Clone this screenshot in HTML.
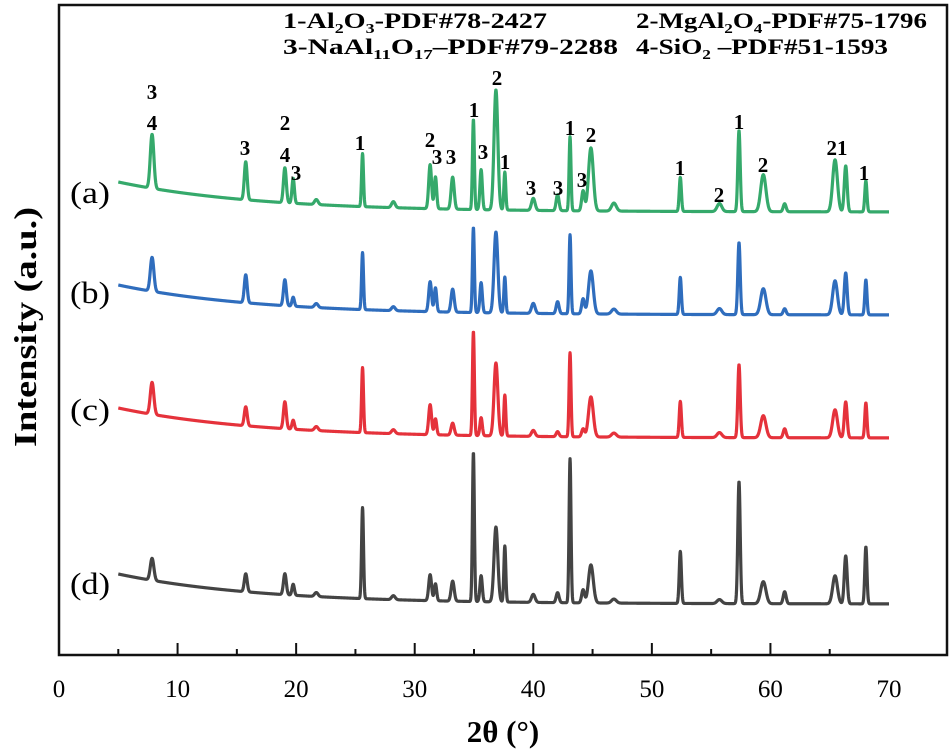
<!DOCTYPE html>
<html><head><meta charset="utf-8"><style>
html,body{margin:0;padding:0;background:#fff;}
svg{display:block;font-family:"Liberation Serif",serif;}
</style></head><body>
<svg id="chart" width="950" height="755" viewBox="0 0 950 755" xmlns="http://www.w3.org/2000/svg">
<rect x="59" y="5" width="888" height="650" fill="none" stroke="#111" stroke-width="2.5"/>
<g id="ticks"></g>
<text x="503" y="742" text-anchor="middle" font-size="31" font-weight="bold">2θ (°)</text>
<text transform="translate(36,327) rotate(-90)" text-anchor="middle" font-size="32" font-weight="bold" textLength="240" lengthAdjust="spacingAndGlyphs">Intensity (a.u.)</text>
<g font-size="22" font-weight="bold">
<text x="283" y="28" textLength="264" lengthAdjust="spacingAndGlyphs">1-Al<tspan font-size="14" dy="5">2</tspan><tspan dy="-5">O</tspan><tspan font-size="14" dy="5">3</tspan><tspan dy="-5">-PDF#78-2427</tspan></text>
<text x="636" y="28" textLength="291" lengthAdjust="spacingAndGlyphs">2-MgAl<tspan font-size="14" dy="5">2</tspan><tspan dy="-5">O</tspan><tspan font-size="14" dy="5">4</tspan><tspan dy="-5">-PDF#75-1796</tspan></text>
<text x="283" y="54" textLength="335" lengthAdjust="spacingAndGlyphs">3-NaAl<tspan font-size="14" dy="5">11</tspan><tspan dy="-5">O</tspan><tspan font-size="14" dy="5">17</tspan><tspan dy="-5">–PDF#79-2288</tspan></text>
<text x="636" y="54" textLength="252" lengthAdjust="spacingAndGlyphs">4-SiO<tspan font-size="14" dy="5">2</tspan><tspan dy="-5"> –PDF#51-1593</tspan></text>
</g>
<g id="series"></g>
<g id="peaklabels" font-size="21" font-weight="bold" text-anchor="middle"></g>
<g font-size="31">
<text x="70" y="203" textLength="40" lengthAdjust="spacingAndGlyphs">(a)</text>
<text x="70" y="303" textLength="40" lengthAdjust="spacingAndGlyphs">(b)</text>
<text x="70" y="420" textLength="40" lengthAdjust="spacingAndGlyphs">(c)</text>
<text x="70" y="594" textLength="40" lengthAdjust="spacingAndGlyphs">(d)</text>
</g>
</svg>
<script>
const peakPositions = [7.85,15.75,19.05,19.75,21.7,25.6,28.2,31.3,31.75,33.2,34.95,35.6,36.85,37.6,40.0,42.05,43.1,44.2,44.86,46.8,52.4,55.7,57.35,59.4,61.2,65.45,66.35,68.05];
const peakWidths = [0.15,0.12,0.12,0.1,0.15,0.08,0.15,0.12,0.1,0.13,0.08,0.1,0.16,0.08,0.15,0.12,0.08,0.12,0.2,0.2,0.09,0.2,0.1,0.22,0.12,0.2,0.12,0.09];
const heightsA = [54,38,35,25,5,53,6,44,32,32,90,40,120,38,12,16,74,20,63,8,34,8,81,37,8,52,46,31];
const heightsB = [34,28,26,9,4,57,4,30,24,23,85,30,81,36,10,12,79,15,43,5,37,6,72,26,6,34,42,35];
const heightsC = [32,19,27,9,4,65,4,30,16,12,104,18,73,41,6,5,84,8,40,4,36,5,73,22,9,28,36,35];
const heightsD = [22,18,21,11,4,91,4,26,17,20,149,26,75,56,8,10,144,13,38,4,52,4,122,22,12,28,48,57];
const xTickLabels = ["0","10","20","30","40","50","60","70"];
const peakLabels = [["3",152,92],["4",152,123],["3",245,148],["2",285,123],["4",285,155],["3",296,173],["1",360,143],["2",430,140],["3",437,157],["3",451,157],["1",474,110],["3",483,152],["2",497,78],["1",505,162],["3",531,188],["3",558,188],["1",570,128],["3",582,180],["2",591,135],["1",680,168],["2",719,195],["1",739,122],["2",763,165],["21",837,148],["1",864,173]];

const NS = "http://www.w3.org/2000/svg";
const X0 = 59, XS = (889-59)/70, AXY = 655;
function xScale(v){ return X0 + v*XS; }
const seriesCfg = [
  {h: heightsA, end: 212, color: "#35a96b", name: "series-a"},
  {h: heightsB, end: 315, color: "#2f6dbd", name: "series-b"},
  {h: heightsC, end: 438, color: "#e5323b", name: "series-c"},
  {h: heightsD, end: 604, color: "#444444", name: "series-d"}
];
function yVal(cfg, x){
  let y = cfg.end - 30*Math.exp(-(x-5)/12);
  for (let i=0;i<peakPositions.length;i++){
    const d = (x-peakPositions[i])/peakWidths[i];
    y -= cfg.h[i]*Math.exp(-0.5*d*d);
  }
  return y;
}
const sg = document.getElementById('series');
seriesCfg.forEach(cfg=>{
  let d = "";
  for (let x=5; x<=70.0001; x+=0.02){
    d += (d?"L":"M") + xScale(x).toFixed(2) + "," + yVal(cfg,x).toFixed(2);
  }
  const p = document.createElementNS(NS,'path');
  p.setAttribute('d', d);
  p.setAttribute('fill','none');
  p.setAttribute('stroke', cfg.color);
  p.setAttribute('stroke-width','3.2');
  p.setAttribute('stroke-linejoin','round');
  
  
  sg.appendChild(p);
});
const tg = document.getElementById('ticks');
for (let v=5; v<70; v+=5){
  const major = v%10===0;
  const l = document.createElementNS(NS,'line');
  l.setAttribute('x1', xScale(v)); l.setAttribute('x2', xScale(v));
  l.setAttribute('y1', AXY); l.setAttribute('y2', AXY-(major?12:6));
  l.setAttribute('stroke','#111'); l.setAttribute('stroke-width','2');
  
  
  tg.appendChild(l);
}
xTickLabels.forEach((s,i)=>{
  const t = document.createElementNS(NS,'text');
  t.setAttribute('x', xScale(i*10)); t.setAttribute('y', 697);
  t.setAttribute('text-anchor','middle'); t.setAttribute('font-size','25');
  t.textContent = s;
  
  
  tg.appendChild(t);
});
const lg = document.getElementById('peaklabels');
peakLabels.forEach(([s,x,y])=>{
  const t = document.createElementNS(NS,'text');
  t.setAttribute('x', x); t.setAttribute('y', y+7);
  t.textContent = s;
  
  
  lg.appendChild(t);
});
</script>
</body></html>
